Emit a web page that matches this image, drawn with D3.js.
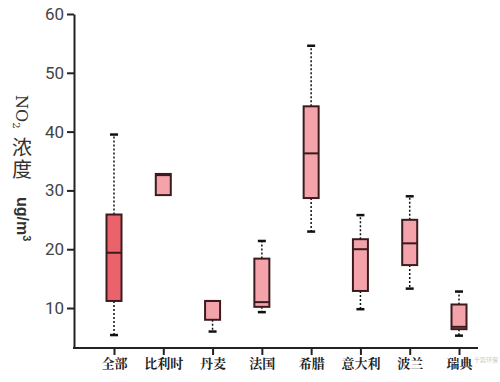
<!DOCTYPE html>
<html>
<head>
<meta charset="utf-8">
<script src="https://cdn.jsdelivr.net/npm/d3@7"></script>
<style>
  body { margin: 0; background: #fff; }
  svg { display: block; }
</style>
</head>
<body>
<div id="chart"></div>
<script>
// data
const categories = ['全部', '比利时', '丹麦', '法国', '希腊', '意大利', '波兰', '瑞典'];
const whiskerLow = [5.4, 29.2, 6.0, 9.3, 23.0, 9.8, 13.3, 5.3];
const q1 = [11.2, 29.2, 8.0, 10.2, 28.7, 12.9, 17.3, 6.4];
const median = [19.4, 32.6, 11.2, 11.0, 36.3, 20.0, 21.0, 6.8];
const q3 = [25.9, 32.8, 11.2, 18.4, 44.3, 21.7, 25.0, 10.6];
const whiskerHigh = [39.5, 32.8, 11.2, 21.4, 54.6, 25.8, 29.0, 12.8];
const yTicks = [10, 20, 30, 40, 50, 60];

const boxes = categories.map((c, i) => ({
  name: c, lo: whiskerLow[i], q1: q1[i], med: median[i], q3: q3[i], hi: whiskerHigh[i]
}));

const width = 500;
const height = 382;

const svg = d3.select('#chart').append('svg')
  .attr('width', width)
  .attr('height', height);

const x = d3.scalePoint()
  .domain(categories)
  .range([114, 459]);

const y = d3.scaleLinear()
  .domain([3.2, 60])
  .range([348, 14]);

// y axis
const yAxis = svg.append('g')
  .attr('transform', 'translate(74,0)')
  .call(d3.axisLeft(y).tickValues(yTicks).tickSize(7).tickSizeOuter(0));
yAxis.select('.domain').attr('stroke', '#222').attr('stroke-width', 2);
yAxis.selectAll('.tick line').attr('stroke', '#222').attr('stroke-width', 2);
yAxis.selectAll('.tick text')
  .attr('x', -10)
  .attr('fill', '#444')
  .style('font-family', 'Roboto, "Noto Sans", sans-serif')
  .style('font-size', '17px');

// x axis
const xAxis = svg.append('g')
  .attr('transform', 'translate(0,348)')
  .call(d3.axisBottom(x).tickSize(7).tickSizeOuter(0));
xAxis.select('.domain').remove();
xAxis.append('line')
  .attr('x1', 73).attr('x2', 478)
  .attr('stroke', '#222').attr('stroke-width', 2);
xAxis.selectAll('.tick line').attr('stroke', '#222').attr('stroke-width', 2);
xAxis.selectAll('.tick text')
  .attr('y', 11)
  .attr('fill', '#222')
  .style('font-family', '"Noto Serif CJK SC", "Noto Sans CJK SC", serif')
  .style('font-weight', 'bold')
  .style('font-size', '13px');

// boxes
const boxW = 15;
const g = svg.append('g');
const bx = g.selectAll('g.box').data(boxes).join('g')
  .attr('class', 'box')
  .attr('transform', d => `translate(${x(d.name)},0)`);

bx.append('line')
  .attr('y1', d => y(d.q3)).attr('y2', d => y(d.hi))
  .attr('stroke', '#111').attr('stroke-width', 1.5)
  .attr('stroke-dasharray', '2,2');
bx.append('line')
  .attr('y1', d => y(d.q1)).attr('y2', d => y(d.lo))
  .attr('stroke', '#111').attr('stroke-width', 1.5)
  .attr('stroke-dasharray', '2,2');
bx.filter(d => d.hi > d.q3).append('line')
  .attr('x1', -4).attr('x2', 4)
  .attr('y1', d => y(d.hi)).attr('y2', d => y(d.hi))
  .attr('stroke', '#111').attr('stroke-width', 2.5);
bx.filter(d => d.lo < d.q1).append('line')
  .attr('x1', -4).attr('x2', 4)
  .attr('y1', d => y(d.lo)).attr('y2', d => y(d.lo))
  .attr('stroke', '#111').attr('stroke-width', 2.5);

bx.append('rect')
  .attr('x', -boxW / 2)
  .attr('width', boxW)
  .attr('y', d => y(d.q3))
  .attr('height', d => y(d.q1) - y(d.q3))
  .attr('fill', (d, i) => i === 0 ? '#ea626c' : '#f4a3aa')
  .attr('stroke', '#3a1c1e')
  .attr('stroke-width', 2);

bx.append('line')
  .attr('x1', -boxW / 2).attr('x2', boxW / 2)
  .attr('y1', d => y(d.med)).attr('y2', d => y(d.med))
  .attr('stroke', '#3a1c1e').attr('stroke-width', 2);

// y label (vertical writing)
const lab = svg.append('g').attr('fill', '#333');
lab.append('text')
  .attr('transform', 'translate(16,95) rotate(90)')
  .style('font-family', '"DejaVu Serif", "Liberation Serif", serif')
  .style('font-size', '16px')
  .html('NO<tspan font-size="10" dy="3">2</tspan>');
lab.append('text')
  .attr('x', 22)
  .attr('y', 137)
  .style('writing-mode', 'vertical-rl')
  .style('font-family', '"Noto Sans CJK SC", sans-serif')
  .style('font-size', '20px')
  .style('letter-spacing', '2px')
  .text('浓度');
lab.append('text')
  .attr('transform', 'translate(17,197) rotate(90)')
  .style('font-family', '"Liberation Sans", Arial, sans-serif')
  .style('font-weight', 'bold')
  .style('font-size', '16px')
  .html('ug/m<tspan font-size="11" dy="-6">3</tspan>');

// watermark, kept just clear of the last label
svg.append('text')
  .attr('x', 474).attr('y', 362)
  .attr('fill', '#c8c8c8')
  .style('font-family', '"Noto Sans CJK SC", sans-serif')
  .style('font-size', '6px')
  .text('千篇环保');
</script>
</body>
</html>
